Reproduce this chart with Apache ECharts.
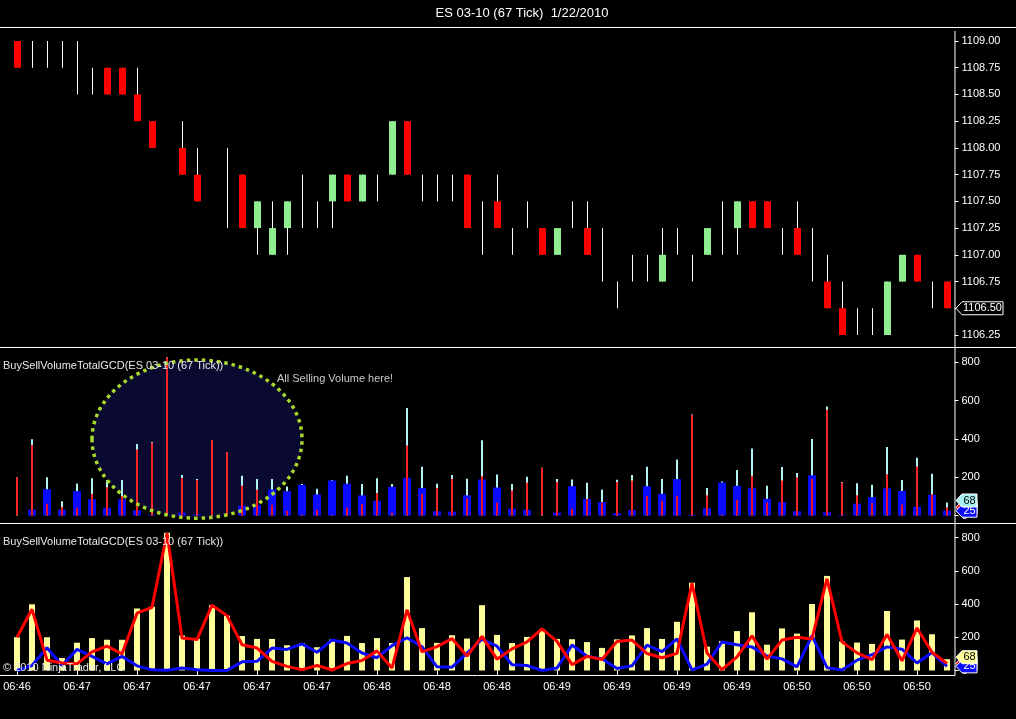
<!DOCTYPE html>
<html><head><meta charset="utf-8">
<script src="https://cdn.jsdelivr.net/npm/echarts/dist/echarts.min.js"></script>
<style>html,body{margin:0;padding:0;background:#000;}#c{width:1016px;height:719px;}</style>
</head><body><div id="c"></div>
<script>
// ---- data ----
const times = [
 '06:46','06:46','06:46','06:46','06:47','06:47','06:47','06:47','06:47','06:47',
 '06:47','06:47','06:47','06:47','06:47','06:47','06:47','06:47','06:47','06:47',
 '06:47','06:47','06:47','06:47','06:48','06:48','06:48','06:48','06:48','06:48',
 '06:48','06:48','06:48','06:48','06:48','06:48','06:49','06:49','06:49','06:49',
 '06:49','06:49','06:49','06:49','06:49','06:49','06:49','06:49','06:49','06:49',
 '06:49','06:49','06:50','06:50','06:50','06:50','06:50','06:50','06:50','06:50',
 '06:50','06:50','06:50'];
const priceOpen = [
 1109.00,1108.75,1108.75,1108.75,1108.75,1108.50,1108.75,1108.75,1108.50,1108.25,
 null,1108.00,1107.75,null,1107.50,1107.75,1107.25,1107.00,1107.25,1107.50,
 1107.50,1107.50,1107.75,1107.50,1107.75,1107.75,1108.25,1107.75,1107.50,1107.75,
 1107.75,1107.25,1107.50,1107.25,1107.25,1107.25,1107.00,1107.25,1107.25,1107.00,
 1106.75,1106.75,1107.00,1106.75,1107.00,1107.00,1107.00,1107.25,1107.25,1107.50,
 1107.50,1107.25,1107.25,1107.00,1106.75,1106.50,1106.25,1106.50,1106.25,1106.75,
 1107.00,1106.75,1106.75];
const priceClose = [
 1108.75,1108.75,1108.75,1108.75,1108.75,1108.50,1108.50,1108.50,1108.25,1108.00,
 null,1107.75,1107.50,null,1107.50,1107.25,1107.50,1107.25,1107.50,1107.50,
 1107.50,1107.75,1107.50,1107.75,1107.75,1108.25,1107.75,1107.75,1107.50,1107.75,
 1107.25,1107.25,1107.25,1107.25,1107.25,1107.00,1107.25,1107.25,1107.00,1107.00,
 1106.75,1106.75,1107.00,1107.00,1107.00,1107.00,1107.25,1107.25,1107.50,1107.25,
 1107.25,1107.25,1107.00,1107.00,1106.50,1106.25,1106.25,1106.50,1106.75,1107.00,
 1106.75,1106.75,1106.50];
const priceHigh = [
 1109.00,1109.00,1109.00,1109.00,1109.00,1108.75,1108.75,1108.75,1108.75,1108.25,
 null,1108.25,1108.00,null,1108.00,1107.75,1107.50,1107.50,1107.50,1107.75,
 1107.50,1107.75,1107.75,1107.75,1107.75,1108.25,1108.25,1107.75,1107.75,1107.75,
 1107.75,1107.50,1107.75,1107.25,1107.50,1107.25,1107.25,1107.50,1107.50,1107.25,
 1106.75,1107.00,1107.00,1107.25,1107.25,1107.00,1107.25,1107.50,1107.50,1107.50,
 1107.50,1107.25,1107.50,1107.25,1107.00,1106.75,1106.50,1106.50,1106.75,1107.00,
 1107.00,1106.75,1106.75];
const priceLow = [
 1108.75,1108.75,1108.75,1108.75,1108.50,1108.50,1108.50,1108.50,1108.25,1108.00,
 null,1107.75,1107.50,null,1107.25,1107.25,1107.00,1107.00,1107.00,1107.25,
 1107.25,1107.25,1107.50,1107.50,1107.50,1107.75,1107.75,1107.50,1107.50,1107.50,
 1107.25,1107.00,1107.25,1107.00,1107.25,1107.00,1107.00,1107.25,1107.00,1106.75,
 1106.50,1106.75,1106.75,1106.75,1107.00,1106.75,1107.00,1107.00,1107.00,1107.25,
 1107.25,1107.00,1107.00,1106.75,1106.50,1106.25,1106.25,1106.25,1106.25,1106.75,
 1106.75,1106.50,1106.50];
const buyVolume = [
 0,30,137,30,127,85,40,85,28,4,
 2,15,5,0,0,52,55,135,127,160,
 110,183,166,105,77,150,197,143,22,20,
 105,188,146,35,30,0,15,153,86,70,
 12,28,153,113,190,3,38,172,155,142,
 87,70,22,210,17,3,62,95,142,128,
 45,108,25];
const sellVolume = [
 200,368,62,45,40,112,147,100,345,380,
 826,196,186,393,330,155,135,55,25,5,
 30,3,42,60,118,15,365,112,144,192,
 87,205,68,130,172,250,175,35,85,66,
 175,183,102,77,103,525,106,5,82,208,
 68,183,200,190,552,172,106,65,216,58,
 256,110,43];
const totalVolume = [
 200,398,200,75,167,195,185,185,373,384,
 828,211,191,393,330,207,190,190,152,165,
 140,186,208,165,195,165,562,255,166,212,
 192,393,214,165,202,250,190,188,171,136,
 187,211,255,190,293,528,144,177,237,350,
 155,253,222,400,569,175,168,160,358,186,
 301,218,68];
const titleText = 'ES 03-10 (67 Tick)  1/22/2010';
const panelName = 'BuySellVolumeTotalGCD(ES 03-10 (67 Tick))';
const noteText = 'All Selling Volume here!';
const copyrightText = '\u00A9 2010 NinjaTrader, LLC';
// annotation region in data terms (bars / volume)
const noteEllipse = { fromBar: 5, toBar: 19, lowVolume: -14, highVolume: 812 };
const notePos = { bar: 17, volume: 714 };

// ---- chart ----
const FONT = '"Liberation Sans", Arial, sans-serif';
const candleData = [];
for (let i = 0; i < times.length; i++) {
  if (priceOpen[i] == null) continue;
  candleData.push([i, priceOpen[i], priceClose[i], priceLow[i], priceHigh[i]]);
}
const volData = times.map((t, i) => [i, totalVolume[i], buyVolume[i], sellVolume[i]]);

function renderCandle(params, api) {
  const i = api.value(0), o = api.value(1), c = api.value(2), l = api.value(3), h = api.value(4);
  const pH = api.coord([i, h]), pL = api.coord([i, l]);
  const pO = api.coord([i, o]), pC = api.coord([i, c]);
  const x = Math.round(pH[0]);
  const children = [{
    type: 'line', shape: { x1: x + 0.5, y1: pH[1], x2: x + 0.5, y2: pL[1] },
    style: { stroke: '#ffffff', lineWidth: 1 }
  }];
  if (o !== c) {
    const top = Math.min(pO[1], pC[1]);
    children.push({
      type: 'rect', shape: { x: x - 3, y: top, width: 7, height: Math.abs(pO[1] - pC[1]) },
      style: { fill: c > o ? '#90ee90' : '#ff0000' }
    });
  }
  return { type: 'group', children };
}
function renderVolume(params, api) {
  const i = api.value(0);
  const base = api.coord([i, 0]);
  const x = Math.round(base[0]);
  const yt = api.coord([i, api.value(1)])[1];
  const yb = api.coord([i, api.value(2)])[1];
  const ys = api.coord([i, api.value(3)])[1];
  return { type: 'group', children: [
    { type: 'rect', shape: { x: x - 1, y: yt, width: 2, height: base[1] - yt }, style: { fill: '#b0f4f4' } },
    { type: 'rect', shape: { x: x - 4, y: yb, width: 8, height: base[1] - yb }, style: { fill: '#0a0aff' } },
    { type: 'rect', shape: { x: x - 1, y: ys, width: 2, height: base[1] - ys }, style: { fill: '#ff1010', opacity: 0.9 } }
  ]};
}

const gridLeft = 9.5, gridWidth = 945;
const axisLabelStyle = { color: '#ffffff', fontSize: 11, fontFamily: FONT, margin: 7 };
const yTick = { show: true, inside: false, length: 4, lineStyle: { color: '#ffffff' } };
function hiddenX(gi) {
  return { type: 'category', gridIndex: gi, data: times, boundaryGap: true,
    axisLine: { show: false }, axisTick: { show: false }, axisLabel: { show: false }, splitLine: { show: false } };
}

const option = {
  backgroundColor: '#000000',
  animation: false,
  grid: [
    { left: gridLeft, width: gridWidth, top: 41, height: 294 },
    { left: gridLeft, width: gridWidth, top: 362.3, height: 153.2 },
    { left: gridLeft, width: gridWidth, top: 537.5, height: 133 }
  ],
  xAxis: [
    hiddenX(0), hiddenX(1),
    { type: 'category', gridIndex: 2, data: times, boundaryGap: true, offset: 5,
      axisLine: { show: false },
      axisTick: { show: true, alignWithLabel: true, interval: 3, length: 5, lineStyle: { color: '#ffffff' } },
      axisLabel: { interval: 3, color: '#ffffff', fontSize: 11, fontFamily: FONT, margin: 6 },
      splitLine: { show: false } }
  ],
  yAxis: [
    { type: 'value', gridIndex: 0, position: 'right', min: 1106.25, max: 1109, interval: 0.25,
      axisLine: { show: false }, axisTick: yTick, splitLine: { show: false },
      axisLabel: Object.assign({}, axisLabelStyle, { formatter: v => v.toFixed(2) }) },
    { type: 'value', gridIndex: 1, position: 'right', min: 0, max: 800, interval: 200,
      axisLine: { show: false }, axisTick: yTick, splitLine: { show: false }, axisLabel: axisLabelStyle },
    { type: 'value', gridIndex: 2, position: 'right', min: 0, max: 800, interval: 200,
      axisLine: { show: false }, axisTick: yTick, splitLine: { show: false }, axisLabel: axisLabelStyle }
  ],
  series: [
    { name: 'Price', type: 'custom', xAxisIndex: 0, yAxisIndex: 0, data: candleData,
      renderItem: renderCandle, encode: { x: 0, y: [1, 2, 3, 4] }, clip: false, z: 3 },
    { name: 'BuySell', type: 'custom', xAxisIndex: 1, yAxisIndex: 1, data: volData,
      renderItem: renderVolume, encode: { x: 0, y: [1, 2, 3] }, clip: false, z: 3 },
    { name: 'Total', type: 'bar', xAxisIndex: 2, yAxisIndex: 2, data: totalVolume, barWidth: 6,
      itemStyle: { color: '#ffff99' }, clip: false, z: 2 },
    { name: 'Buy', type: 'line', xAxisIndex: 2, yAxisIndex: 2, data: buyVolume, showSymbol: false, symbol: 'none',
      lineStyle: { color: '#0a0aff', width: 3 }, clip: false, z: 3 },
    { name: 'Sell', type: 'line', xAxisIndex: 2, yAxisIndex: 2, data: sellVolume, showSymbol: false, symbol: 'none',
      lineStyle: { color: '#ff0000', width: 3 }, clip: false, z: 4 }
  ]
};

const chart = echarts.init(document.getElementById('c'));
chart.setOption(option);

function P(gi, bar, val) { return chart.convertToPixel({ gridIndex: gi }, [bar, val]); }
function badge(y, x0, w, fill, stroke, textColor, label, z) {
  return [
    { type: 'polygon', z: z,
      shape: { points: [[x0, y], [x0 + 6, y - 6.5], [x0 + 6 + w, y - 6.5], [x0 + 6 + w, y + 6.5], [x0 + 6, y + 6.5]] },
      style: { fill: fill, stroke: stroke, lineWidth: 1 } },
    { type: 'text', z: z + 1, x: x0 + 6 + w / 2, y: y,
      style: { text: label, fill: textColor, font: '11px ' + FONT, textAlign: 'center', textVerticalAlign: 'middle' } }
  ];
}

const e1 = P(1, noteEllipse.fromBar, noteEllipse.highVolume);
const e2 = P(1, noteEllipse.toBar, noteEllipse.lowVolume);
const ell = { cx: (e1[0] + e2[0]) / 2, cy: (e1[1] + e2[1]) / 2, rx: Math.abs(e2[0] - e1[0]) / 2, ry: Math.abs(e2[1] - e1[1]) / 2 };
const np = P(1, notePos.bar, notePos.volume);
const last = times.length - 1;
const axisX = gridLeft + gridWidth;
const yPrice = chart.convertToPixel({ yAxisIndex: 0 }, priceClose[last]);

const lineStyle = { stroke: '#ffffff', lineWidth: 1 };
const graphics = [
  { type: 'text', z: 20, x: 522, y: 13, style: { text: titleText, fill: '#ffffff', font: '13px ' + FONT, textAlign: 'center', textVerticalAlign: 'middle' } },
  { type: 'line', z: 20, shape: { x1: 0, y1: 27.5, x2: 1016, y2: 27.5 }, style: lineStyle },
  { type: 'line', z: 20, shape: { x1: 0, y1: 347.5, x2: 1016, y2: 347.5 }, style: lineStyle },
  { type: 'line', z: 20, shape: { x1: 0, y1: 523.5, x2: 1016, y2: 523.5 }, style: lineStyle },
  { type: 'line', z: 20, shape: { x1: 0, y1: 675.5, x2: axisX + 0.5, y2: 675.5 }, style: lineStyle },
  { type: 'line', z: 20, shape: { x1: axisX + 0.5, y1: 31, x2: axisX + 0.5, y2: 675.5 }, style: lineStyle },
  { type: 'ellipse', z: 0, shape: ell, style: { fill: '#0a0a30' } },
  { type: 'ellipse', z: 10, shape: ell, style: { fill: null, stroke: '#a6d82e', lineWidth: 3.5, lineDash: [3.5, 4] } },
  { type: 'text', z: 20, x: np[0] + 5, y: np[1], style: { text: noteText, fill: '#c8c8c8', font: '11px ' + FONT, textAlign: 'left', textVerticalAlign: 'middle' } },
  { type: 'text', z: 20, x: 3, y: 366, style: { text: panelName, fill: '#e8e8e8', font: '11px ' + FONT, textAlign: 'left', textVerticalAlign: 'middle' } },
  { type: 'text', z: 20, x: 3, y: 542, style: { text: panelName, fill: '#e8e8e8', font: '11px ' + FONT, textAlign: 'left', textVerticalAlign: 'middle' } },
  { type: 'text', z: 20, x: 3, y: 668, style: { text: copyrightText, fill: '#e8e8e8', font: '11px ' + FONT, textAlign: 'left', textVerticalAlign: 'middle' } }
];
graphics.push(...badge(yPrice, axisX + 1.5, 41, '#000000', '#ffffff', '#ffffff', priceClose[last].toFixed(2), 30));
// middle panel last-value badges
graphics.push(...badge(chart.convertToPixel({ yAxisIndex: 1 }, sellVolume[last]), axisX + 1.5, 15, '#ff0000', '#ffffff', '#ffffff', String(sellVolume[last]), 30));
graphics.push(...badge(chart.convertToPixel({ yAxisIndex: 1 }, buyVolume[last]), axisX + 1.5, 15, '#0a0aff', '#ffffff', '#ffffff', String(buyVolume[last]), 32));
graphics.push(...badge(chart.convertToPixel({ yAxisIndex: 1 }, totalVolume[last]) - 2, axisX + 1.5, 15, '#a8f0f0', '#ffffff', '#000000', String(totalVolume[last]), 34));
// bottom panel last-value badges
graphics.push(...badge(chart.convertToPixel({ yAxisIndex: 2 }, sellVolume[last]), axisX + 1.5, 15, '#ff0000', '#ffffff', '#ffffff', String(sellVolume[last]), 30));
graphics.push(...badge(chart.convertToPixel({ yAxisIndex: 2 }, buyVolume[last]), axisX + 1.5, 15, '#0a0aff', '#ffffff', '#ffffff', String(buyVolume[last]), 32));
graphics.push(...badge(chart.convertToPixel({ yAxisIndex: 2 }, totalVolume[last]) - 2, axisX + 1.5, 15, '#ffff99', '#ffffff', '#000000', String(totalVolume[last]), 34));

chart.setOption({ graphic: { elements: graphics } });
</script>
</body></html>
